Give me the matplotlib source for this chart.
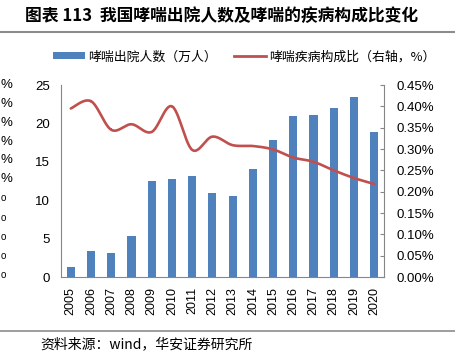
import numpy as np
import matplotlib
matplotlib.use('Agg')
import matplotlib.pyplot as plt
from matplotlib.lines import Line2D
from matplotlib.patches import Patch
from matplotlib.ticker import FuncFormatter

CJK = ['Noto Sans CJK SC', 'DejaVu Sans']
LAT = ['Liberation Sans', 'DejaVu Sans']

years = ['2005', '2006', '2007', '2008', '2009', '2010', '2011', '2012',
         '2013', '2014', '2015', '2016', '2017', '2018', '2019', '2020']
discharges = [1.3, 3.4, 3.1, 5.3, 12.5, 12.7, 13.2, 10.9,
              10.6, 14.0, 17.9, 21.0, 21.1, 22.0, 23.4, 18.9]
share_pct = [0.395, 0.412, 0.345, 0.358, 0.340, 0.400, 0.298, 0.329,
             0.309, 0.307, 0.299, 0.280, 0.270, 0.250, 0.232, 0.218]
left_ticks = [0, 5, 10, 15, 20, 25]
right_ticks = [0.00, 0.05, 0.10, 0.15, 0.20, 0.25, 0.30, 0.35, 0.40, 0.45]

title = '图表 113  我国哮喘出院人数及哮喘的疾病构成比变化'
bar_label = '哮喘出院人数（万人）'
line_label = '哮喘疾病构成比（右轴，%）'
source = '资料来源：wind，华安证券研究所'

BAR_C = '#4F81BD'
LINE_C = '#C0504D'
GRID_C = '#868686'

W, H = 455, 359
fig = plt.figure(figsize=(W / 100, H / 100), dpi=100)
fig.patch.set_facecolor('white')

def fx(px):
    return px / W

def fy(py):
    return 1 - py / H

ax = fig.add_axes([fx(60.7), fy(277), fx(384.3) - fx(60.7), fy(85) - fy(277)])
x = np.arange(len(years))
ax.bar(x, discharges, width=0.4, color=BAR_C, zorder=2)
ax.set_xlim(-0.5, len(years) - 0.5)
ax.set_ylim(0, 25)
ax.set_yticks(left_ticks)
ax.set_xticks(x)
ax.set_xticklabels(years, rotation=90, fontsize=9, family=LAT)
for lab in ax.get_yticklabels():
    lab.set_family(LAT)
ax.tick_params(axis='y', length=0, pad=8, labelsize=9.5)
ax.tick_params(axis='x', length=0, pad=7)
for s in ['top', 'right']:
    ax.spines[s].set_visible(False)
for s in ['left', 'bottom']:
    ax.spines[s].set_color(GRID_C)
    ax.spines[s].set_linewidth(0.8)

ax2 = ax.twinx()
# Catmull-Rom smoothing of the line (like Excel's smoothed line)
xs, ys = [], []
px = np.concatenate([[x[0]], x, [x[-1]]]).astype(float)
py = np.concatenate([[share_pct[0]], share_pct, [share_pct[-1]]])
t = np.linspace(0, 1, 30)
for i in range(1, len(px) - 2):
    for arr, out in ((px, xs), (py, ys)):
        p0, p1, p2, p3 = arr[i - 1], arr[i], arr[i + 1], arr[i + 2]
        seg = 0.5 * ((2 * p1) + (-p0 + p2) * t + (2 * p0 - 5 * p1 + 4 * p2 - p3) * t ** 2
                     + (-p0 + 3 * p1 - 3 * p2 + p3) * t ** 3)
        out.extend(seg)
ax2.plot(xs, ys, color=LINE_C, lw=1.9, solid_capstyle='round', zorder=3)
ax2.set_ylim(0, 0.45)
ax2.set_yticks(right_ticks)
ax2.yaxis.set_major_formatter(FuncFormatter(lambda v, p: f'{v:.2f}%'))
for lab in ax2.get_yticklabels():
    lab.set_family(LAT)
ax2.tick_params(axis='y', direction='in', length=3, color=GRID_C, pad=9, labelsize=9.5)
for s in ['top', 'left', 'bottom']:
    ax2.spines[s].set_visible(False)
ax2.spines['right'].set_color(GRID_C)
ax2.spines['right'].set_linewidth(0.8)

handles = [Patch(facecolor=BAR_C, edgecolor='none', label=bar_label),
           Line2D([0], [0], color=LINE_C, lw=2, label=line_label)]
fig.legend(handles=handles, loc='center left', bbox_to_anchor=(fx(53), fy(57)),
           ncol=2, frameon=False, borderpad=0, borderaxespad=0,
           handlelength=2.5, handleheight=0.45, handletextpad=0.25,
           columnspacing=1.3, prop={'family': CJK, 'size': 9.3})

fig.text(fx(25), fy(16), title, fontsize=12.1, fontweight='bold', family=CJK,
         ha='left', va='center')
fig.add_artist(Line2D([0, 1], [fy(32), fy(32)], color='#8C8C8C', lw=1.5))
fig.add_artist(Line2D([0, 1], [fy(331), fy(331)], color='#8C8C8C', lw=1.2))
fig.text(fx(40), fy(344), source, fontsize=10, family=CJK, ha='left', va='center')

# fragments of a neighbouring chart's axis labels at the left edge
frag_y = [85, 104, 123, 142, 160, 179, 198, 218, 237, 256, 275]
for i, yy in enumerate(frag_y):
    if i < 6:
        fig.text(fx(0.5), fy(yy), '%', fontsize=9.5, family=LAT, ha='left', va='center')
    else:
        fig.text(fx(0.3), fy(yy), 'o', fontsize=7, family=LAT, ha='left', va='center')

fig.savefig('out.png', dpi=100, facecolor='white')
